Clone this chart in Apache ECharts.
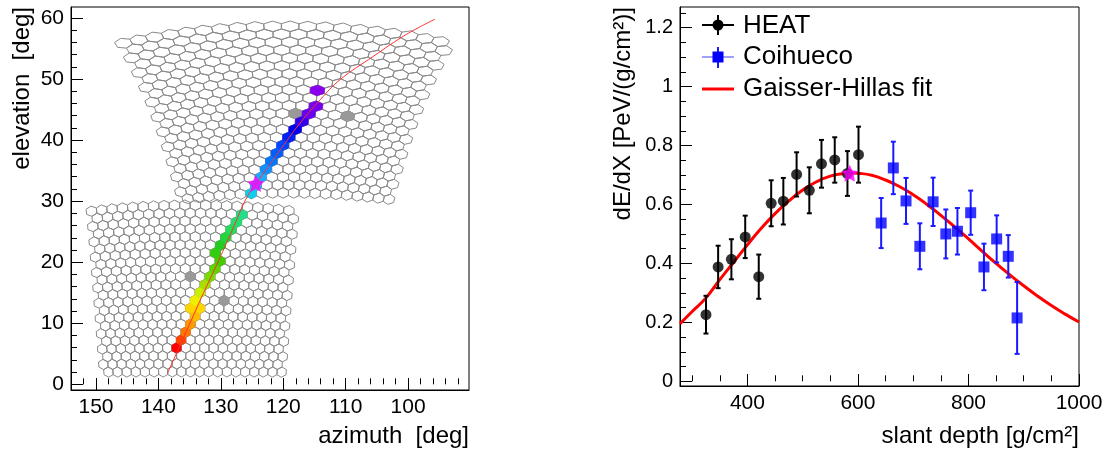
<!DOCTYPE html>
<html>
<head>
<meta charset="utf-8">
<script src="https://cdn.jsdelivr.net/npm/echarts@6/dist/echarts.min.js"></script>
<style>
html,body{margin:0;padding:0;background:#fff;}
#chart{width:1110px;height:452px;}
</style>
</head>
<body>
<div id="chart"></div>
<script>
// ================= DATA =================
// ---- left panel: camera view ----
const azTickLabels = [100, 110, 120, 130, 140, 150];
const azMinorTicks = [92, 94, 96, 98, 102, 104, 106, 108, 112, 114, 116, 118, 122, 124, 126, 128, 132, 134, 136, 138, 142, 144, 146, 148, 152];
const elTickLabels = [0, 10, 20, 30, 40, 50, 60];
const elMinorTicks = [2, 4, 6, 8, 12, 14, 16, 18, 22, 24, 26, 28, 32, 34, 36, 38, 42, 44, 46, 48, 52, 54, 56, 58];

// telescope cameras (pointing direction, pixel matrix)
const cameraNames = ['Coihueco', 'HEAT'];
const cameraAz = [134.5, 119.6];
const cameraEl = [15.7, 45.0];
const cameraRows = [22, 22];
const cameraCols = [20, 20];
const cameraPitch = [1.5, 1.5];

// triggered pixels (azimuth, elevation, trigger time bin)
const hitAz = [137.2, 136.5, 135.8, 135.0, 134.1, 135.0, 133.4, 134.3, 133.4, 132.7, 131.85, 131.0, 130.05, 130.95, 130.1, 129.1, 128.2, 127.25, 126.2,
               125.1, 124.4, 123.75, 122.7, 121.8, 120.9, 120.0, 118.9, 117.8, 116.65, 115.55, 114.4, 114.1];
const hitEl = [6.2, 7.4, 8.7, 10.1, 11.4, 12.7, 12.7, 14.0, 15.2, 16.5, 17.8, 19.1, 20.4, 21.65, 23.0, 24.2, 25.5, 26.75, 28.0,
               31.65, 33.0, 34.3, 35.7, 37.0, 38.3, 39.55, 40.9, 42.2, 43.45, 44.8, 46.0, 48.5];
const hitTime = [0, 1, 2, 3, 4, 5, 5, 6, 7, 8, 9, 9.5, 10, 10.5, 11, 11.5, 12, 12.5, 13,
                 14, 14.5, 15, 15.5, 16, 16.5, 17, 17.5, 18, 19, 20, 20.5, 21];
// pixels with signal but not used (grey)
const offAz = [134.9, 129.5, 117.75, 109.3];
const offEl = [17.9, 13.9, 44.8, 44.2];
// shower-detector plane track
const sdpAz = [138.55, 136.7, 134.9, 132.8, 130.65, 128.2, 125.85, 124.25, 120.75, 117.3, 114.1, 110.9, 105.6, 100.3, 95.7];
const sdpEl = [1.8, 6.0, 10.1, 14.9, 19.6, 25.2, 30.6, 33.0, 38.0, 42.8, 46.6, 49.9, 53.7, 57.3, 59.8];
// shower maximum position in the camera
const camXmaxAz = [124.4];
const camXmaxEl = [32.9];

// ---- right panel: longitudinal profile ----
const depthTickLabels = [400, 600, 800, 1000];
const depthMinorTicks = [300, 350, 450, 500, 550, 650, 700, 750, 850, 900, 950];
const dedxTickLabels = [0, 0.2, 0.4, 0.6, 0.8, 1, 1.2];
const dedxMinorTicks = [0.05, 0.1, 0.15, 0.25, 0.3, 0.35, 0.45, 0.5, 0.55, 0.65, 0.7, 0.75, 0.85, 0.9, 0.95, 1.05, 1.1, 1.15, 1.25];

const heatDepth = [325, 347, 371, 396, 420.5, 443, 465, 489, 512, 534, 558, 581, 601];
const heatDedx  = [0.226, 0.388, 0.414, 0.490, 0.355, 0.604, 0.611, 0.702, 0.648, 0.738, 0.751, 0.705, 0.769];
const heatErr   = [0.064, 0.072, 0.068, 0.072, 0.075, 0.078, 0.079, 0.075, 0.078, 0.081, 0.077, 0.076, 0.095];

const coiDepth = [642, 664, 687, 712, 736, 759, 780, 804, 828, 851, 872, 888];
const coiDedx  = [0.537, 0.724, 0.612, 0.458, 0.609, 0.500, 0.509, 0.572, 0.388, 0.483, 0.424, 0.215];
const coiErr   = [0.085, 0.089, 0.078, 0.078, 0.082, 0.083, 0.079, 0.075, 0.079, 0.080, 0.072, 0.122];

const ghDepth = [278, 300, 325, 350, 375, 400, 425, 450, 475, 500, 525, 550, 575, 590, 600, 625, 650, 675, 700, 725, 750, 775, 800, 825, 850, 875, 900, 925, 950, 975, 1000];
const ghDedx  = [0.195, 0.237, 0.283, 0.345, 0.404, 0.463, 0.519, 0.569, 0.612, 0.649, 0.677, 0.696, 0.705, 0.707, 0.706, 0.699, 0.683, 0.661, 0.633, 0.600, 0.563, 0.524, 0.483, 0.441, 0.400, 0.361, 0.324, 0.289, 0.257, 0.228, 0.201];

const xmaxDepth = [585];
const xmaxDedx = [0.706];

// ================= STYLE / GEOMETRY HELPERS =================
const FONT = '"Liberation Sans", Arial, Helvetica, sans-serif';
const timePalette = ['#ff0000','#ff4400','#ff7700','#ff9900','#ffbb00','#ffd500','#eeee00','#ccee00','#aadd00','#77dd00','#44cc00',
                     '#22cc22','#22dd55','#22dd88','#11ccee','#22aaff','#0077ff','#0044ff','#0000ee','#3300ee','#6600ee','#8800ee'];
function hexToRgb(h){ return [parseInt(h.substr(1,2),16), parseInt(h.substr(3,2),16), parseInt(h.substr(5,2),16)]; }
function timeColor(t){
  const n = timePalette.length - 1;
  const f = Math.max(0, Math.min(n, t));
  const i = Math.min(n - 1, Math.floor(f)), w = f - i;
  const a = hexToRgb(timePalette[i]), b = hexToRgb(timePalette[i + 1]);
  const c = a.map((v, k) => Math.round(v + (b[k] - v) * w));
  return 'rgb(' + c.join(',') + ')';
}

const D = Math.PI / 180;
function camToSky(c, u, v){
  const a0 = cameraAz[c] * D, e0 = cameraEl[c] * D;
  const ca = Math.cos(a0), sa = Math.sin(a0), ce = Math.cos(e0), se = Math.sin(e0);
  const tu = Math.tan(u * D), tv = Math.tan(v * D);
  const x = ce * ca - tu * sa - tv * se * ca;
  const y = ce * sa + tu * ca - tv * se * sa;
  const z = se + tv * ce;
  const n = Math.sqrt(x * x + y * y + z * z);
  return [Math.atan2(y, x) / D, Math.asin(z / n) / D];
}
function pixelUV(c, i, j){
  const p = cameraPitch[c];
  const dv = p * Math.sqrt(3) / 2;
  const v = (i - (cameraRows[c] - 1) / 2) * dv;
  const u = (j - (cameraCols[c] - 1) / 2 + (i % 2 ? 0.25 : -0.25)) * p;
  return [u, v];
}
function hexVertices(c, i, j){
  const [u, v] = pixelUV(c, i, j);
  const R = cameraPitch[c] / Math.sqrt(3);
  const pts = [];
  for (let k = 0; k < 6; k++) {
    const th = (30 + 60 * k) * D;
    pts.push(camToSky(c, u + R * Math.cos(th), v + R * Math.sin(th)));
  }
  return pts;
}
const cameraPixels = [];
for (let c = 0; c < cameraNames.length; c++)
  for (let i = 0; i < cameraRows[c]; i++)
    for (let j = 0; j < cameraCols[c]; j++) {
      const [u, v] = pixelUV(c, i, j);
      const s = camToSky(c, u, v);
      cameraPixels.push([s[0], s[1], c, i, j]);
    }
function nearestPixel(az, el){
  let best = null, bd = 1e9;
  for (const p of cameraPixels) {
    const dx = (p[0] - az) * 6.25, dy = (p[1] - el) * 6.1;
    const d = dx * dx + dy * dy;
    if (d < bd) { bd = d; best = p; }
  }
  return best;
}
const hitPixels = hitAz.map((a, k) => { const p = nearestPixel(a, hitEl[k]); return [p[0], p[1], p[2], p[3], p[4], hitTime[k]]; });
const offPixels = offAz.map((a, k) => { const p = nearestPixel(a, offEl[k]); return [p[0], p[1], p[2], p[3], p[4]]; });

function hexRender(fillFn, stroke){
  return function(params, api){
    const c = api.value(2), i = api.value(3), j = api.value(4);
    const pts = hexVertices(c, i, j).map(p => api.coord(p));
    const fill = fillFn ? fillFn(api) : 'none';
    return { type: 'polygon', shape: { points: pts },
             style: { fill: fill, stroke: stroke || fill, lineWidth: stroke ? 1 : 0.6 } };
  };
}
function errRender(color, lw){
  return function(params, api){
    const x = api.value(0), y = api.value(1), e = api.value(2);
    const t = api.coord([x, y + e]), b = api.coord([x, y - e]);
    const cap = 2.5;
    const st = { stroke: color, lineWidth: lw };
    return { type: 'group', children: [
      { type: 'line', shape: { x1: t[0], y1: t[1], x2: b[0], y2: b[1] }, style: st },
      { type: 'line', shape: { x1: t[0] - cap, y1: t[1], x2: t[0] + cap, y2: t[1] }, style: st },
      { type: 'line', shape: { x1: b[0] - cap, y1: b[1], x2: b[0] + cap, y2: b[1] }, style: st }
    ]};
  };
}
const STAR = 'path://M0,-10L2.94,-4.05L9.51,-3.09L4.76,1.55L5.88,8.09L0,5L-5.88,8.09L-4.76,1.55L-9.51,-3.09L-2.94,-4.05Z';

const plainNumber = v => String(v);
function majorAxis(grid, min, max, labels, fontSize, extra){
  return Object.assign({
    type: 'value', gridIndex: grid, min: min, max: max,
    axisLine: { show: true, onZero: false, lineStyle: { color: '#000', width: 1 } },
    axisTick: { show: true, inside: true, length: 12, customValues: labels, lineStyle: { color: '#000', width: 1 } },
    axisLabel: { customValues: labels, margin: 7, formatter: plainNumber, color: '#000', fontSize: fontSize, fontFamily: FONT },
    splitLine: { show: false }
  }, extra || {});
}
function minorAxis(grid, min, max, ticks, extra){
  return Object.assign({
    type: 'value', gridIndex: grid, min: min, max: max,
    axisLine: { show: false },
    axisTick: { show: true, inside: true, length: 6, customValues: ticks, lineStyle: { color: '#000', width: 1 } },
    axisLabel: { show: false },
    splitLine: { show: false }
  }, extra || {});
}

const chart = echarts.init(document.getElementById('chart'), null, { renderer: 'canvas' });
chart.setOption({
  animation: false,
  backgroundColor: '#fff',
  grid: [
    { left: 71, top: 7, width: 398, height: 383, show: true, borderColor: '#000', borderWidth: 1, backgroundColor: 'transparent' },
    { left: 680, top: 7, width: 399, height: 379, show: true, borderColor: '#000', borderWidth: 1, backgroundColor: 'transparent' }
  ],
  xAxis: [
    majorAxis(0, 90.25, 154, azTickLabels, 21, { inverse: true, position: 'bottom' }),
    minorAxis(0, 90.25, 154, azMinorTicks, { inverse: true, position: 'bottom' }),
    majorAxis(1, 278, 1000, depthTickLabels, 21, { position: 'bottom' }),
    minorAxis(1, 278, 1000, depthMinorTicks, { position: 'bottom' })
  ],
  yAxis: [
    majorAxis(0, -0.93, 61.8, elTickLabels, 21, { position: 'left' }),
    minorAxis(0, -0.93, 61.8, elMinorTicks, { position: 'left' }),
    majorAxis(1, -0.016, 1.27, dedxTickLabels, 20, { position: 'left' }),
    minorAxis(1, -0.016, 1.27, dedxMinorTicks, { position: 'left' })
  ],
  series: [
    { type: 'custom', name: 'camera pixels', xAxisIndex: 0, yAxisIndex: 0, silent: true,
      renderItem: hexRender(null, '#8a8a8a'), data: cameraPixels, z: 2 },
    { type: 'custom', name: 'unused pixels', xAxisIndex: 0, yAxisIndex: 0, silent: true,
      renderItem: hexRender(() => '#999999'), data: offPixels, z: 3 },
    { type: 'custom', name: 'triggered pixels', xAxisIndex: 0, yAxisIndex: 0, silent: true,
      renderItem: hexRender(api => timeColor(api.value(5))), data: hitPixels, z: 3 },
    { type: 'line', name: 'SDP', xAxisIndex: 0, yAxisIndex: 0, smooth: 0.4, showSymbol: false, symbol: 'none',
      lineStyle: { color: '#ff3030', width: 1 }, data: sdpAz.map((a, k) => [a, sdpEl[k]]), z: 4 },
    { type: 'scatter', name: 'Xmax camera', xAxisIndex: 0, yAxisIndex: 0, symbol: STAR, symbolSize: 17,
      itemStyle: { color: '#ff00ff' }, data: camXmaxAz.map((a, k) => [a, camXmaxEl[k]]), z: 5 },

    { type: 'line', name: 'Gaisser-Hillas fit', xAxisIndex: 2, yAxisIndex: 2, smooth: true, showSymbol: false, symbol: 'none',
      lineStyle: { color: '#ff0000', width: 3 }, data: ghDepth.map((x, k) => [x, ghDedx[k]]), z: 2 },
    { type: 'custom', name: 'HEAT err', xAxisIndex: 2, yAxisIndex: 2, silent: true,
      renderItem: errRender('#000', 2), data: heatDepth.map((x, k) => [x, heatDedx[k], heatErr[k]]), z: 3 },
    { type: 'scatter', name: 'HEAT', xAxisIndex: 2, yAxisIndex: 2, symbol: 'circle', symbolSize: 11,
      itemStyle: { color: '#000' }, data: heatDepth.map((x, k) => [x, heatDedx[k]]), z: 4 },
    { type: 'custom', name: 'Coihueco err', xAxisIndex: 2, yAxisIndex: 2, silent: true,
      renderItem: errRender('#1a1aff', 2), data: coiDepth.map((x, k) => [x, coiDedx[k], coiErr[k]]), z: 3 },
    { type: 'scatter', name: 'Coihueco', xAxisIndex: 2, yAxisIndex: 2, symbol: 'rect', symbolSize: 11,
      itemStyle: { color: '#0000ff' }, data: coiDepth.map((x, k) => [x, coiDedx[k]]), z: 4 },
    { type: 'scatter', name: 'Xmax', xAxisIndex: 2, yAxisIndex: 2, symbol: STAR, symbolSize: 17,
      itemStyle: { color: '#ff00ff' }, data: xmaxDepth.map((x, k) => [x, xmaxDedx[k]]), z: 5 }
  ],
  graphic: [
    // axis titles
    { type: 'text', x: 22, y: 7, rotation: Math.PI / 2,
      style: { text: 'elevation  [deg]', fill: '#000', font: '24px ' + FONT, textAlign: 'right', textVerticalAlign: 'middle', align: 'right', verticalAlign: 'middle' } },
    { type: 'text', x: 469, y: 436,
      style: { text: 'azimuth  [deg]', fill: '#000', font: '24px ' + FONT, textAlign: 'right', textVerticalAlign: 'middle', align: 'right', verticalAlign: 'middle' } },
    { type: 'text', x: 623, y: 7, rotation: Math.PI / 2,
      style: { text: 'dE/dX [PeV/(g/cm²)]', fill: '#000', font: '24px ' + FONT, textAlign: 'right', textVerticalAlign: 'middle', align: 'right', verticalAlign: 'middle' } },
    { type: 'text', x: 1079, y: 436,
      style: { text: 'slant depth [g/cm²]', fill: '#000', font: '24px ' + FONT, textAlign: 'right', textVerticalAlign: 'middle', align: 'right', verticalAlign: 'middle' } },
    // legend
    { type: 'line', shape: { x1: 702, y1: 25, x2: 734, y2: 25 }, style: { stroke: '#000', lineWidth: 2 } },
    { type: 'line', shape: { x1: 718, y1: 15, x2: 718, y2: 35 }, style: { stroke: '#000', lineWidth: 2 } },
    { type: 'circle', shape: { cx: 718, cy: 25, r: 5.5 }, style: { fill: '#000' } },
    { type: 'text', x: 743, y: 26, style: { text: 'HEAT', fill: '#000', font: '26px ' + FONT, textVerticalAlign: 'middle', verticalAlign: 'middle' } },
    { type: 'line', shape: { x1: 702, y1: 57, x2: 734, y2: 57 }, style: { stroke: '#8080ff', lineWidth: 1.5 } },
    { type: 'line', shape: { x1: 718, y1: 47, x2: 718, y2: 68 }, style: { stroke: '#1a1aff', lineWidth: 2 } },
    { type: 'rect', shape: { x: 712.5, y: 51.5, width: 11, height: 11 }, style: { fill: '#0000ff' } },
    { type: 'text', x: 743, y: 57, style: { text: 'Coihueco', fill: '#000', font: '26px ' + FONT, textVerticalAlign: 'middle', verticalAlign: 'middle' } },
    { type: 'line', shape: { x1: 702, y1: 89, x2: 734, y2: 89 }, style: { stroke: '#ff0000', lineWidth: 3 } },
    { type: 'text', x: 743, y: 89, style: { text: 'Gaisser-Hillas fit', fill: '#000', font: '26px ' + FONT, textVerticalAlign: 'middle', verticalAlign: 'middle' } }
  ]
});
</script>
</body>
</html>
